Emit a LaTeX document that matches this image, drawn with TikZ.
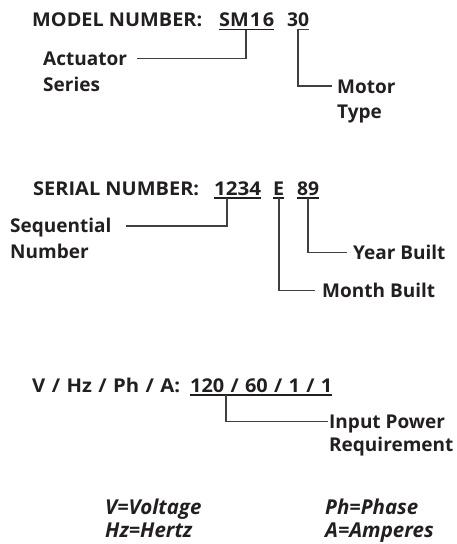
\documentclass[tikz,border=0pt]{standalone}
\usepackage{fontspec}
\usepackage{graphicx}
\setmainfont{Open Sans}
\newcommand{\fitw}[2]{\resizebox{#1}{\height}{#2}}
\newcommand{\gap}{\hspace{6pt}}
\begin{document}
\begin{tikzpicture}[x=1pt,y=-1pt,
  txt/.style={anchor=base west,inner sep=0pt,font=\fontsize{19}{23}\selectfont\bfseries,text=ink},
  itx/.style={txt,font=\fontsize{20.5}{24}\selectfont\bfseries\itshape},
  uline/.style={draw=ink,line width=1.1pt},
  conn/.style={draw=wire,line width=1.2pt}]
\definecolor{ink}{HTML}{231F20}
\definecolor{wire}{HTML}{404040}
\useasboundingbox (0,0) rectangle (457,544);
% --- model number
\node[txt] (mn) at (32,26) {\fitw{170pt}{MODEL NUMBER:}};
\node[txt] (sm) at (219,26) {\fitw{55pt}{SM\kern1pt1\kern1.5pt6}};
\node[txt] (m30) at (287,26) {\fitw{22pt}{30}};
\draw[uline] ([yshift=-3.5pt]sm.base west) -- ([yshift=-3.5pt]sm.base east);
\coordinate (smu) at (246,29.5);
\coordinate (m30e) at (309,29.5);
\coordinate (m30u) at (298,29.5);
\node[txt] (act) at (43,65) {Actuator};
\node[txt] (ser) at (43,91) {Series};
\node[txt] (mot) at (337,93) {Motor};
\node[txt] (typ) at (337,118) {Type};
\coordinate (actc) at (137,58.5);
\coordinate (motc) at (332,86);
\draw[conn] (smu) |- (actc);
\draw[conn] (m30e) -- (m30u) |- (motc);
% --- serial number
\node[txt] (sn) at (33,195) {\fitw{166pt}{SERIAL NUMBER:}};
\node[txt] (s1) at (214,195) {\fitw{47pt}{1234}};
\node[txt] (sE) at (273,195) {\fitw{11pt}{E}};
\node[txt] (s89) at (297,195) {\fitw{22pt}{89}};
\draw[uline] ([yshift=-3pt]s1.base west) -- ([yshift=-3pt]s1.base east);
\draw[uline] ([yshift=-3pt]sE.base west) -- ([yshift=-3pt]sE.base east);
\draw[uline] ([yshift=-3pt]s89.base west) -- ([yshift=-3pt]s89.base east);
\coordinate (s1u) at (227,198);
\coordinate (sEu) at (279,198);
\coordinate (s89u) at (308,198);
\node[txt] (seq) at (10,232) {Sequential};
\node[txt] (num) at (10,258) {Number};
\node[txt] (yb) at (353,259) {Year Built};
\node[txt] (mb) at (322,297) {Month Built};
\coordinate (seqc) at (126,226);
\coordinate (ybc) at (347,252.5);
\coordinate (mbc) at (315,290.5);
\draw[conn] (s1u) |- (seqc);
\draw[conn] (s89u) |- (ybc);
\draw[conn] (sEu) |- (mbc);
% --- power
\node[txt] (vh) at (32,392) {\fitw{148pt}{V\gap/\gap Hz\gap/\gap Ph\gap/\gap A:}};
\node[txt] (pw) at (190,392) {\fitw{142pt}{120\gap/\gap 60\gap/\gap 1\gap/\gap 1}};
\draw[uline] ([yshift=-3pt]pw.base west) -- ([yshift=-3pt]pw.base east);
\coordinate (pwu) at (226,395);
\node[txt] (inp) at (329,428) {Input Power};
\node[txt] (req) at (329,451) {Requirement};
\coordinate (inpc) at (328,421.5);
\draw[conn] (pwu) |- (inpc);
% --- legend
\node[itx] (lv) at (105,514) {V=Voltage};
\node[itx] (lh) at (105,537) {Hz=Hertz};
\node[itx] (lp) at (325,514) {Ph=Phase};
\node[itx] (la) at (325,537) {A=Amperes};
\end{tikzpicture}
\end{document}
